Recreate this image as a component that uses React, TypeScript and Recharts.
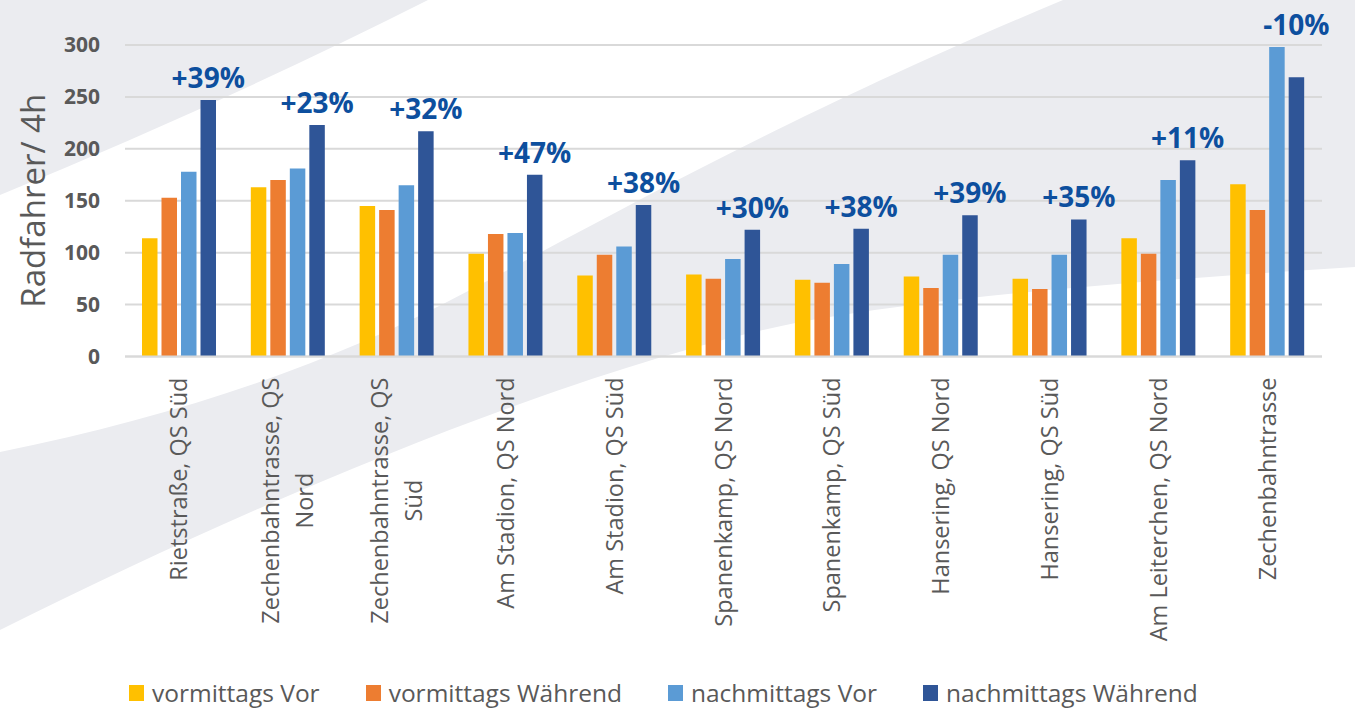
import React from "react";
import { BarChart, Bar, XAxis, YAxis, CartesianGrid, LabelList } from "recharts";

const categories = [
  "Rietstraße, QS Süd",
  "Zechenbahntrasse, QS Nord",
  "Zechenbahntrasse, QS Süd",
  "Am Stadion, QS Nord",
  "Am Stadion, QS Süd",
  "Spanenkamp, QS Nord",
  "Spanenkamp, QS Süd",
  "Hansering, QS Nord",
  "Hansering, QS Süd",
  "Am Leiterchen, QS Nord",
  "Zechenbahntrasse",
];

const vormittagsVor = [114, 163, 145, 99, 78, 79, 74, 77, 75, 114, 166];
const vormittagsWaehrend = [153, 170, 141, 118, 98, 75, 71, 66, 65, 99, 141];
const nachmittagsVor = [178, 181, 165, 119, 106, 94, 89, 98, 98, 170, 298];
const nachmittagsWaehrend = [247, 223, 217, 175, 146, 122, 123, 136, 132, 189, 269];
const changes = ["+39%", "+23%", "+32%", "+47%", "+38%", "+30%", "+38%", "+39%", "+35%", "+11%", "-10%"];

const yTicks = [0, 50, 100, 150, 200, 250, 300];

const series = [
  { key: "vv", name: "vormittags Vor", color: "#FFC000" },
  { key: "vw", name: "vormittags Während", color: "#ED7D31" },
  { key: "nv", name: "nachmittags Vor", color: "#5B9BD5" },
  { key: "nw", name: "nachmittags Während", color: "#2F5597" },
];

const data = categories.map((name, i) => ({
  name,
  vv: vormittagsVor[i],
  vw: vormittagsWaehrend[i],
  nv: nachmittagsVor[i],
  nw: nachmittagsWaehrend[i],
  change: changes[i],
  max: Math.max(vormittagsVor[i], vormittagsWaehrend[i], nachmittagsVor[i], nachmittagsWaehrend[i]),
}));

const FONT = "'Open Sans', 'Noto Sans', sans-serif";
const GREY_TEXT = "#595959";
const TICK_SIZE = 23.5;

// excel wraps the long labels before the last word
function wrapLabel(s: string) {
  if (s.length <= 23) return [s];
  const i = s.lastIndexOf(" ");
  return [s.slice(0, i), s.slice(i + 1)];
}

let ctx: CanvasRenderingContext2D | null = null;
function textWidth(s: string) {
  if (!ctx) ctx = document.createElement("canvas").getContext("2d");
  if (!ctx) return s.length * TICK_SIZE * 0.5;
  ctx.font = `${TICK_SIZE}px 'Open Sans'`;
  return ctx.measureText(s).width;
}

function CategoryTick(props: any) {
  const { x, y, payload } = props;
  const lines = wrapLabel(String(payload.value));
  const lh = 34;
  const w = Math.max(...lines.map(textWidth));
  return (
    <g transform={`translate(${x},${y + 13})`}>
      <text
        transform="rotate(-90)"
        textAnchor="middle"
        fill={GREY_TEXT}
        fontSize={TICK_SIZE}
        fontFamily={FONT}
      >
        {lines.map((l, i) => (
          <tspan key={i} x={-w / 2} y={(i - (lines.length - 1) / 2) * lh + 8}>
            {l}
          </tspan>
        ))}
      </text>
    </g>
  );
}

function AxisTitle(props: any) {
  const vb = props.viewBox || {};
  const cx = vb.x + 32;
  const cy = vb.y + vb.height / 2;
  return (
    <text
      x={cx}
      y={cy}
      transform={`rotate(-90, ${cx}, ${cy})`}
      textAnchor="middle"
      dominantBaseline="central"
      fill={GREY_TEXT}
      fontSize={33}
      fontFamily={FONT}
    >
      Radfahrer/ 4h
    </text>
  );
}

function ChangeLabel(props: any) {
  const vb = props.viewBox || {};
  const x = props.x ?? vb.x;
  const y = props.y ?? vb.y;
  const width = props.width ?? vb.width;
  const height = props.height ?? vb.height;
  const row = data[props.index];
  if (!row) return null;
  const bottom = y + height;
  const top = row.nw > 0 ? bottom - (height * row.max) / row.nw : y;
  return (
    <text
      x={x + width / 2}
      y={top - 12}
      textAnchor="middle"
      fill="#0D4F9E"
      fontSize={28}
      fontWeight={700}
      fontFamily={FONT}
    >
      {row.change}
    </text>
  );
}

function Background() {
  return (
    <svg width={1355} height={709} style={{ position: "absolute", left: 0, top: 0 }}>
      <rect width={1355} height={709} fill="#ffffff" />
      <path d="M0,0 L428,0 Q230,100 0,195 Z" fill="#EBECF0" />
      <path
        d="M0,452 C180,415 330,365 470,290 C640,200 800,110 1063,0 L1355,0 L1355,267 C1150,280 950,295 800,322 C600,362 300,480 0,630 Z"
        fill="#EBECF0"
      />
    </svg>
  );
}

export default function App() {
  return (
    <div
      style={{
        position: "fixed",
        left: 0,
        top: 0,
        width: 1355,
        height: 709,
        overflow: "hidden",
        fontFamily: FONT,
      }}
    >
      <Background />
      <div style={{ position: "absolute", left: 0, top: 0 }}>
        <BarChart
          width={1355}
          height={709}
          data={data}
          margin={{ top: 45, right: 33, left: 0, bottom: 52.5 }}
          barSize={15.5}
          barGap={4}
        >
          <CartesianGrid vertical={false} stroke="#D9D9D9" strokeWidth={2} />
          <XAxis
            dataKey="name"
            height={300}
            interval={0}
            tickLine={false}
            axisLine={{ stroke: "#D9D9D9", strokeWidth: 2 }}
            tick={<CategoryTick />}
          />
          <YAxis
            width={125}
            domain={[0, 300]}
            ticks={yTicks}
            tickLine={false}
            axisLine={false}
            tickMargin={19}
            tick={{ fill: GREY_TEXT, fontSize: 21, fontWeight: 700, fontFamily: FONT }}
            label={<AxisTitle />}
          />
          {series.map((s) => (
            <Bar key={s.key} dataKey={s.key} name={s.name} fill={s.color} isAnimationActive={false}>
              {s.key === "nw" && <LabelList dataKey="change" content={<ChangeLabel />} />}
            </Bar>
          ))}
        </BarChart>
      </div>
      <div
        style={{
          position: "absolute",
          left: 129,
          top: 676,
          display: "flex",
          alignItems: "center",
          gap: 46,
          fontSize: 24.5,
          color: GREY_TEXT,
          whiteSpace: "nowrap",
        }}
      >
        {series.map((s) => (
          <div key={s.key} style={{ display: "flex", alignItems: "center" }}>
            <span style={{ display: "inline-block", width: 15, height: 16, background: s.color, marginRight: 8 }} />
            <span>{s.name}</span>
          </div>
        ))}
      </div>
    </div>
  );
}
